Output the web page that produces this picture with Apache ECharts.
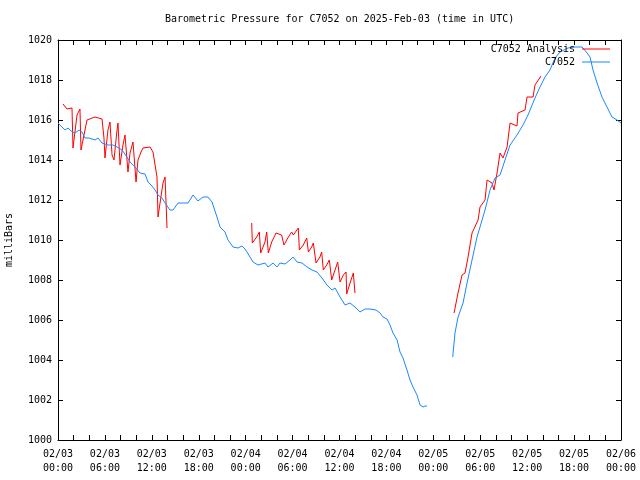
<!DOCTYPE html>
<html>
<head>
<meta charset="utf-8">
<script src="https://cdn.jsdelivr.net/npm/echarts@6/dist/echarts.min.js"></script>
<style>
html,body{margin:0;padding:0;background:#fff;}
#chart{width:640px;height:480px;}
</style>
</head>
<body>
<div id="chart"></div>
<script>
// Hours since 2025-02-03 00:00 UTC; null marks a data gap
const analysisHours = [0.64,1.15,1.79,1.92,2.43,2.81,2.94,3.71,4.73,5.63,5.88,6.01,6.39,6.65,6.91,7.16,7.55,7.67,7.93,8.31,8.57,8.95,9.21,9.59,9.98,10.23,10.62,10.87,11.77,12.15,12.66,12.79,13.05,13.43,13.69,13.94,
  19.0,
  24.77,24.85,25.41,25.75,25.92,26.47,26.69,26.9,27.33,27.88,28.6,28.9,29.46,29.88,30.1,30.73,30.87,31.37,31.81,32.02,32.44,32.65,33.0,33.5,33.72,33.93,34.36,34.7,35.0,35.43,35.77,36.07,36.49,36.84,36.92,37.35,37.77,37.98,
  44.0,
  50.65,51.16,51.67,52.05,52.44,52.95,53.72,53.97,54.61,54.87,55.51,55.76,56.15,56.53,56.91,57.43,57.81,58.7,58.83,59.73,59.98,60.75,61.0,61.77];
const analysisPressure = [1016.8,1016.55,1016.6,1014.6,1016.25,1016.55,1014.5,1016.0,1016.15,1016.05,1015.1,1014.1,1015.5,1015.9,1014.25,1014.0,1015.5,1015.85,1013.75,1014.75,1015.25,1013.4,1014.35,1014.9,1012.9,1014.0,1014.4,1014.6,1014.65,1014.4,1013.15,1011.15,1011.85,1012.85,1013.15,1010.6,
  null,
  1010.85,1009.85,1010.15,1010.4,1009.35,1009.9,1010.4,1009.35,1009.9,1010.35,1010.25,1009.75,1010.15,1010.4,1010.25,1010.6,1009.5,1009.75,1010.1,1009.4,1009.65,1009.85,1008.85,1009.15,1009.4,1008.5,1008.75,1009.0,1008.0,1008.5,1008.9,1007.9,1008.25,1008.4,1007.3,1007.85,1008.35,1007.35,
  null,
  1006.35,1007.35,1008.25,1008.35,1009.15,1010.35,1011.0,1011.65,1012.0,1013.0,1012.85,1012.5,1013.35,1014.35,1014.1,1014.65,1015.85,1015.7,1016.35,1016.5,1017.15,1017.15,1017.75,1018.2];

const stationHours = [0,0.51,0.9,1.28,1.66,2.17,2.69,3.07,3.45,3.96,4.35,4.73,5.12,5.63,6.39,7.03,7.55,8.19,8.82,9.21,9.85,10.49,11.13,11.51,12.02,12.41,12.79,13.3,13.69,14.32,14.71,15.35,15.99,16.63,17.27,17.9,18.54,19.18,19.7,20.33,20.72,21.36,21.74,22.38,23.02,23.53,23.92,24.17,24.94,25.58,26.47,26.86,27.5,28.01,28.39,29.03,29.67,30.05,30.57,31.21,31.85,32.48,33.12,33.76,34.4,35.04,35.43,36.07,36.71,37.34,37.98,38.62,39.26,39.9,40.67,41.18,41.57,42.08,42.46,42.84,43.36,43.74,44.12,44.63,45.02,45.4,45.91,46.3,46.55,46.68,46.94,47.19,
  48.8,
  50.48,50.77,51.16,51.8,52.31,52.95,53.59,53.97,54.61,55.25,55.89,56.53,57.17,57.81,58.7,59.47,60.11,61.0,61.64,62.28,62.92,63.56,64.2,65.23,66.12,67.02,67.66,68.04,68.42,68.94,69.57,70.21,70.85,71.49,72.0];
const stationPressure = [1015.85,1015.65,1015.5,1015.6,1015.45,1015.35,1015.5,1015.4,1015.1,1015.1,1015.05,1015.0,1015.1,1014.85,1014.75,1014.75,1014.65,1014.5,1014.15,1013.9,1013.65,1013.35,1013.3,1012.9,1012.7,1012.5,1012.25,1012.1,1011.85,1011.5,1011.5,1011.85,1011.85,1011.85,1012.25,1011.95,1012.15,1012.15,1011.9,1011.15,1010.65,1010.4,1010.0,1009.65,1009.6,1009.7,1009.55,1009.4,1008.9,1008.75,1008.85,1008.65,1008.85,1008.65,1008.85,1008.8,1009.0,1009.15,1008.9,1008.85,1008.65,1008.5,1008.4,1008.1,1007.75,1007.5,1007.6,1007.15,1006.75,1006.85,1006.65,1006.4,1006.55,1006.55,1006.5,1006.35,1006.15,1006.05,1005.75,1005.35,1005.0,1004.4,1004.1,1003.5,1003.0,1002.65,1002.25,1001.75,1001.8,1001.65,1001.7,1001.7,
  null,
  1004.15,1005.35,1006.15,1006.85,1007.85,1009.0,1010.15,1010.65,1011.5,1012.5,1013.1,1013.25,1014.0,1014.75,1015.25,1015.75,1016.25,1017.1,1017.65,1018.15,1018.5,1019.1,1019.4,1019.6,1019.65,1019.65,1019.35,1019.15,1018.5,1017.85,1017.15,1016.65,1016.15,1016.0,1015.85];

const xTickLabels = ['02/03\n00:00','02/03\n06:00','02/03\n12:00','02/03\n18:00','02/04\n00:00','02/04\n06:00','02/04\n12:00','02/04\n18:00','02/05\n00:00','02/05\n06:00','02/05\n12:00','02/05\n18:00','02/06\n00:00'];
const yTicks = [1000,1002,1004,1006,1008,1010,1012,1014,1016,1018,1020];

const FONT = '"DejaVu Sans Mono", monospace';
const toData = (hs, ps) => hs.map((h, i) => [h, ps[i] === null ? '-' : ps[i]]);

const chart = echarts.init(document.getElementById('chart'), null, {renderer: 'canvas'});
const tickCommon = {inside: true, length: 5, lineStyle: {color: '#000', width: 1}};
chart.setOption({
  animation: false,
  backgroundColor: '#fff',
  textStyle: {fontFamily: FONT, color: '#000'},
  title: {
    text: 'Barometric Pressure for C7052 on 2025-Feb-03 (time in UTC)',
    left: 165, top: 14, padding: 0,
    textStyle: {fontFamily: FONT, fontSize: 10, fontWeight: 'normal', color: '#000'}
  },
  legend: [
    {data: ['C7052 Analysis'], right: 30, top: 44, padding: 0, align: 'right',
     icon: 'rect', itemWidth: 28, itemHeight: 1, itemGap: 0,
     textStyle: {fontFamily: FONT, fontSize: 10, color: '#000', padding: [0, 2, 0, 0]}},
    {data: ['C7052'], right: 30, top: 57, padding: 0, align: 'right',
     icon: 'rect', itemWidth: 28, itemHeight: 1, itemGap: 0,
     textStyle: {fontFamily: FONT, fontSize: 10, color: '#000', padding: [0, 2, 0, 0]}}
  ],
  grid: {left: 58, right: 19, top: 40, bottom: 40, containLabel: false, outerBoundsMode: 'none'},
  xAxis: [
    {type: 'value', min: 0, max: 72, interval: 6, position: 'bottom',
     axisLine: {show: true, onZero: false, lineStyle: {color: '#000', width: 1}},
     axisTick: tickCommon,
     minorTick: {show: true, splitNumber: 3, length: 5, lineStyle: {color: '#000', width: 1}},
     splitLine: {show: false}, minorSplitLine: {show: false},
     axisLabel: {margin: 7, fontFamily: FONT, fontSize: 10, color: '#000', lineHeight: 14,
       formatter: v => xTickLabels[Math.round(v / 6)]}},
    {type: 'value', min: 0, max: 72, interval: 6, position: 'top',
     axisLine: {show: true, onZero: false, lineStyle: {color: '#000', width: 1}},
     axisTick: tickCommon,
     minorTick: {show: true, splitNumber: 3, length: 5, lineStyle: {color: '#000', width: 1}},
     splitLine: {show: false}, axisLabel: {show: false}}
  ],
  yAxis: [
    {type: 'value', min: yTicks[0], max: yTicks[yTicks.length - 1], interval: 2, position: 'left',
     name: 'milliBars', nameLocation: 'middle', nameGap: 44,
     nameTextStyle: {fontFamily: FONT, fontSize: 10, color: '#000'},
     axisLine: {show: true, onZero: false, lineStyle: {color: '#000', width: 1}},
     axisTick: tickCommon, splitLine: {show: false},
     axisLabel: {margin: 6, fontFamily: FONT, fontSize: 10, color: '#000',
       formatter: v => String(v)}},
    {type: 'value', min: yTicks[0], max: yTicks[yTicks.length - 1], interval: 2, position: 'right',
     axisLine: {show: true, onZero: false, lineStyle: {color: '#000', width: 1}},
     axisTick: tickCommon, splitLine: {show: false}, axisLabel: {show: false}}
  ],
  series: [
    {name: 'C7052 Analysis', type: 'line', xAxisIndex: 0, yAxisIndex: 0,
     data: toData(analysisHours, analysisPressure), showSymbol: false, symbol: 'none',
     connectNulls: false, color: '#ff0000', lineStyle: {width: 1, color: '#ff0000'}, z: 2},
    {name: 'C7052', type: 'line', xAxisIndex: 0, yAxisIndex: 0,
     data: toData(stationHours, stationPressure), showSymbol: false, symbol: 'none',
     connectNulls: false, color: '#1a88ff', lineStyle: {width: 1, color: '#1a88ff'}, z: 3}
  ]
});
</script>
</body>
</html>
